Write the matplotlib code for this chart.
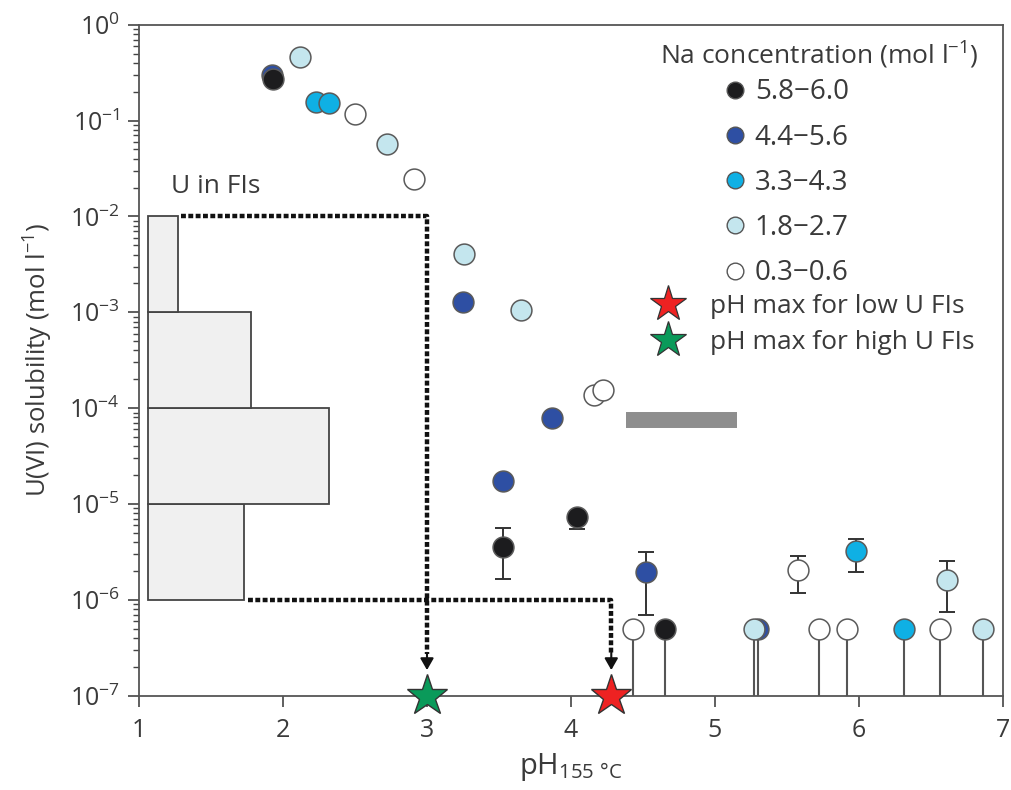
import numpy as np
import matplotlib
matplotlib.use("Agg")
from matplotlib import pyplot as plt
from matplotlib.lines import Line2D
from matplotlib.ticker import LogLocator, LogFormatterSciNotation, NullFormatter

FONT = "Open Sans"
TEXT_COLOR = "#3a3a3a"

plt.rcParams["font.family"] = [FONT, "DejaVu Sans"]
plt.rcParams["mathtext.fontset"] = "custom"
plt.rcParams["mathtext.rm"] = FONT
plt.rcParams["mathtext.it"] = FONT
plt.rcParams["mathtext.bf"] = FONT
plt.rcParams["text.color"] = TEXT_COLOR
plt.rcParams["axes.labelcolor"] = TEXT_COLOR
plt.rcParams["xtick.color"] = "#444444"
plt.rcParams["ytick.color"] = "#444444"
plt.rcParams["xtick.labelcolor"] = TEXT_COLOR
plt.rcParams["ytick.labelcolor"] = TEXT_COLOR

# Na concentration groups (mol/l) and their fill colours
na_groups = ["5.8\u22126.0", "4.4\u22125.6", "3.3\u22124.3", "1.8\u22122.7", "0.3\u22120.6"]
na_colors = ["#1c1c1e", "#2e4fa3", "#0fb0e4", "#c4e6ee", "#ffffff"]

# Measured U(VI) solubility, one entry per experiment
ph = [1.92, 1.93, 2.12, 2.23, 2.32, 2.50, 2.72, 2.91, 3.26, 3.25, 3.65,
      4.16, 4.22, 3.87, 3.53, 4.04, 3.53, 4.52, 5.58, 5.98, 6.61,
      4.43, 4.65, 5.30, 5.27, 5.72, 5.92, 6.31, 6.56, 6.86]
solubility = [0.30, 0.27, 0.46, 0.157, 0.151, 0.117, 0.057, 0.0247, 4.1e-3, 1.29e-3, 1.06e-3,
              1.37e-4, 1.55e-4, 7.8e-5, 1.75e-5, 7.4e-6, 3.6e-6, 1.94e-6, 2.05e-6, 3.2e-6, 1.62e-6,
              5e-7, 5e-7, 5e-7, 5e-7, 5e-7, 5e-7, 5e-7, 5e-7, 5e-7]
group = [1, 0, 3, 2, 2, 4, 3, 4, 3, 1, 3,
         4, 4, 1, 1, 0, 0, 1, 4, 2, 3,
         4, 0, 1, 3, 4, 4, 2, 4, 3]
err_low = [None] * 15 + [5.45e-6, 1.65e-6, 6.9e-7, 1.19e-6, 1.94e-6, 7.4e-7] + [None] * 9
err_high = [None] * 15 + [7.4e-6, 5.6e-6, 3.15e-6, 2.9e-6, 4.3e-6, 2.55e-6] + [None] * 9

# values at the detection limit are drawn as stems down to the axis
DETECTION_LIMIT = 5e-7

# U concentration histogram for fluid inclusions (bin edges in mol/l, bar length in pH units)
fi_bin_edges = [1e-6, 1e-5, 1e-4, 1e-3, 1e-2]
fi_bar_length = [0.67, 1.26, 0.72, 0.21]
FI_LEFT = 1.06

# maximum pH for high and low U fluid inclusions
ph_max_high_u = 3.0
ph_max_low_u = 4.28

# grey range bar
range_ph = [4.38, 5.15]
range_sol = 7.5e-5

fig = plt.figure(figsize=(10.12, 7.90), dpi=100)
ax = fig.add_axes([0.1374, 0.1194, 0.8536, 0.8493])
ax.set_xlim(1, 7)
ax.set_yscale("log")
ax.set_ylim(1e-7, 1)

# histogram of U in FIs
for lo, hi, length in zip(fi_bin_edges[:-1], fi_bin_edges[1:], fi_bar_length):
    ax.barh(lo, length, height=hi - lo, left=FI_LEFT, align="edge",
            facecolor="#f0f0f0", edgecolor="#444444", linewidth=1.3, zorder=1)
ax.text(1.22, 1.75e-2, "U in FIs", fontsize=19, color=TEXT_COLOR, va="baseline")

# dotted guides down to the stars
dot_style = dict(color="#111111", linewidth=3.2, linestyle=(0, (1.1, 0.55)),
                 dash_capstyle="butt", zorder=2)
top_start = FI_LEFT + fi_bar_length[-1] + 0.02
low_start = FI_LEFT + fi_bar_length[0] + 0.03
ax.plot([top_start, ph_max_high_u, ph_max_high_u], [1e-2, 1e-2, 2.7e-7], **dot_style)
ax.plot([low_start, ph_max_low_u, ph_max_low_u], [1e-6, 1e-6, 2.7e-7], **dot_style)
for x in (ph_max_high_u, ph_max_low_u):
    ax.annotate("", xy=(x, 1.85e-7), xytext=(x, 2.8e-7),
                arrowprops=dict(arrowstyle="-|>,head_length=0.7,head_width=0.4",
                                color="#111111", lw=1.5, shrinkA=0, shrinkB=0),
                zorder=3)

# grey range bar
ax.plot(range_ph, [range_sol, range_sol], color="#8e8e8e", linewidth=11.5,
        solid_capstyle="butt", zorder=2)

# stems for values at the detection limit
for x, y in zip(ph, solubility):
    if y <= DETECTION_LIMIT:
        ax.plot([x, x], [1e-7, y], color="#555555", linewidth=1.5, zorder=3)

# error bars
for x, y, lo, hi in zip(ph, solubility, err_low, err_high):
    if lo is not None:
        ax.errorbar([x], [y], yerr=[[y - lo], [hi - y]], fmt="none", ecolor="#333333",
                    elinewidth=1.4, capsize=5.5, capthick=1.4, zorder=4)

# data points
for i, (x, y, g) in enumerate(zip(ph, solubility, group)):
    ax.plot(x, y, "o", markersize=15, markerfacecolor=na_colors[g],
            markeredgecolor="#5a5a5a", markeredgewidth=1.1, zorder=5 + i * 0.01)

# stars on the pH axis
ax.plot(ph_max_high_u, 1e-7, "*", markersize=31, markerfacecolor="#0a9a5a",
        markeredgecolor="#333333", markeredgewidth=1.0, clip_on=False, zorder=10)
ax.plot(ph_max_low_u, 1e-7, "*", markersize=31, markerfacecolor="#ee2222",
        markeredgecolor="#333333", markeredgewidth=1.0, clip_on=False, zorder=10)

# axes styling
for side in ax.spines.values():
    side.set_color("#555555")
    side.set_linewidth(1.3)
ax.set_xticks([1, 2, 3, 4, 5, 6, 7])
ax.yaxis.set_major_locator(LogLocator(base=10, numticks=10))
ax.yaxis.set_major_formatter(LogFormatterSciNotation())
ax.yaxis.set_minor_locator(LogLocator(base=10, subs=np.arange(2, 10), numticks=20))
ax.yaxis.set_minor_formatter(NullFormatter())
ax.tick_params(axis="both", which="major", direction="out", length=8, width=1.2,
               labelsize=18, pad=6)
ax.tick_params(axis="y", which="minor", direction="out", length=4.5, width=1.0,
               labelleft=False)
ax.tick_params(axis="x", pad=8)

ax.set_xlabel("pH$_{155\\ \\degree\\mathrm{C}}$", fontsize=21, labelpad=6)
ax.set_ylabel("U(VI) solubility (mol l$^{-1}$)", fontsize=18.5, labelpad=10)

# legend
ax.text(0.603, 0.955, "Na concentration (mol l$^{-1}$)", transform=ax.transAxes,
        fontsize=19, va="center", ha="left")
circle_handles = [Line2D([], [], linestyle="none", marker="o", markersize=12,
                         markerfacecolor=c, markeredgecolor="#555555", markeredgewidth=1.0)
                  for c in na_colors]
leg1 = ax.legend(circle_handles, na_groups, loc="upper left", bbox_to_anchor=(0.68, 0.92),
                 frameon=False, fontsize=20, handlelength=0.6, handletextpad=0.42,
                 labelspacing=0.62, borderpad=0, borderaxespad=0)
ax.add_artist(leg1)
star_handles = [Line2D([], [], linestyle="none", marker="*", markersize=27,
                       markerfacecolor=c, markeredgecolor="#333333", markeredgewidth=0.9)
                for c in ("#ee2222", "#0a9a5a")]
ax.legend(star_handles, ["pH max for low U FIs", "pH max for high U FIs"],
          loc="upper left", bbox_to_anchor=(0.592, 0.599), frameon=False, fontsize=19,
          handlelength=1.3, handletextpad=0.94, labelspacing=0.44, borderpad=0,
          borderaxespad=0)

fig.savefig("out.png", dpi=100)
